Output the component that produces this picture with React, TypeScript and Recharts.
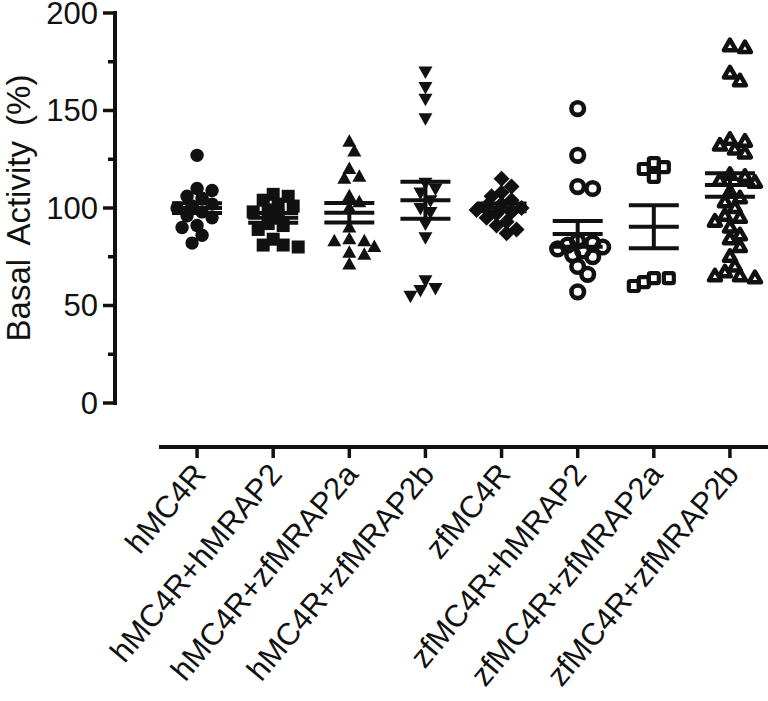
import React from "react";
import {
  ScatterChart,
  Scatter,
  XAxis,
  YAxis,
  ErrorBar,
  ReferenceLine,
} from "recharts";

const CATEGORIES = [
  "hMC4R",
  "hMC4R+hMRAP2",
  "hMC4R+zfMRAP2a",
  "hMC4R+zfMRAP2b",
  "zfMC4R",
  "zfMC4R+hMRAP2",
  "zfMC4R+zfMRAP2a",
  "zfMC4R+zfMRAP2b",
];

// basal activity (%) per replicate
const hMC4R = [127, 110, 109, 106, 105, 102, 101, 100, 98, 96, 95, 91, 90, 86, 82];
const hMC4R_hMRAP2 = [107, 106, 104, 102, 101, 99, 98, 96, 92, 91, 89, 84, 81, 80, 81];
const hMC4R_zfMRAP2a = [134, 129, 120, 116, 115, 106, 103, 100, 90, 83, 84, 83, 80, 77, 76, 71];
const hMC4R_zfMRAP2b = [170, 162, 156, 146, 113, 110, 108, 104, 100, 98, 92, 85, 63, 59, 58, 55];
const zfMC4R = [115, 111, 108, 106, 104, 102, 101, 100, 99, 98, 97, 95, 93, 91, 89, 87];
const zfMC4R_hMRAP2 = [151, 127, 111, 110, 83, 82, 81, 80, 79, 78, 76, 75, 70, 66, 57];
const zfMC4R_zfMRAP2a = [123, 121, 120, 116, 64, 62, 64, 60];
const zfMC4R_zfMRAP2b = [
  183, 182, 169, 165, 135, 134, 132, 130, 128, 117, 116, 114, 113, 108, 105, 103,
  100, 96, 95, 93, 90, 86, 84, 80, 75, 70, 67, 65, 65, 64,
];

const GROUPS = [
  hMC4R,
  hMC4R_hMRAP2,
  hMC4R_zfMRAP2a,
  hMC4R_zfMRAP2b,
  zfMC4R,
  zfMC4R_hMRAP2,
  zfMC4R_zfMRAP2a,
  zfMC4R_zfMRAP2b,
];

// mean +/- SEM as drawn
const MEANS = [100, 95, 97.6, 104, 100.3, 86.7, 90.4, 111.8];
const SEMS = [2.5, 2.5, 5, 9.5, 2, 6.6, 11, 6];

const Y_TICKS = [0, 25, 50, 75, 100, 125, 150, 175, 200];

// layout
const W = 768;
const H = 701;
const PLOT_LEFT = 115;
const PLOT_TOP = 13;
const X_AXIS_Y = 447;
const X_AXIS_START = 159;
const CAT_PX = (W - X_AXIS_START) / CATEGORIES.length;
const Y_PX = (403 - PLOT_TOP) / 200;
const X_MIN = -0.5 - (X_AXIS_START - PLOT_LEFT) / CAT_PX;
const X_MAX = CATEGORIES.length - 0.5;
const Y_MIN = -(X_AXIS_Y - 403) / Y_PX;
const INK = "#111";
const FONT = "'Liberation Sans', Arial, Helvetica, sans-serif";

// simple beeswarm so overlapping replicates spread sideways like Prism does
function swarm(values: number[]): number[] {
  const MIN_DIST = 10.5;
  const STEP = 5;
  const order = values.map((_, i) => i).sort((a, b) => values[b] - values[a]);
  const placed: { dx: number; py: number }[] = [];
  const out = new Array(values.length).fill(0);
  for (const i of order) {
    const py = values[i] * Y_PX;
    let dx = 0;
    for (let k = 0; k < 60; k++) {
      const cand = k === 0 ? 0 : (k % 2 ? 1 : -1) * Math.ceil(k / 2) * STEP;
      if (placed.every((p) => Math.hypot(p.dx - cand, p.py - py) >= MIN_DIST)) {
        dx = cand;
        break;
      }
    }
    placed.push({ dx, py });
    out[i] = dx / CAT_PX;
  }
  return out;
}

const seriesData = GROUPS.map((vals, gi) => {
  const off = swarm(vals);
  return vals.map((v, i) => ({ x: gi + off[i], y: v }));
});

const meanData = MEANS.map((m, i) => ({ x: i, y: m, sem: SEMS[i] }));

type P = { cx?: number; cy?: number };

const shapes: ((p: P) => React.ReactElement)[] = [
  ({ cx = 0, cy = 0 }) => <circle cx={cx} cy={cy} r={6.7} fill={INK} />,
  ({ cx = 0, cy = 0 }) => <rect x={cx - 6.5} y={cy - 6.5} width={13} height={13} fill={INK} />,
  ({ cx = 0, cy = 0 }) => (
    <path d={`M${cx},${cy - 7.5}L${cx + 7},${cy + 5}L${cx - 7},${cy + 5}Z`} fill={INK} />
  ),
  ({ cx = 0, cy = 0 }) => (
    <path d={`M${cx},${cy + 7.5}L${cx + 7},${cy - 5}L${cx - 7},${cy - 5}Z`} fill={INK} />
  ),
  ({ cx = 0, cy = 0 }) => (
    <path d={`M${cx},${cy - 8}L${cx + 8},${cy}L${cx},${cy + 8}L${cx - 8},${cy}Z`} fill={INK} />
  ),
  ({ cx = 0, cy = 0 }) => (
    <circle cx={cx} cy={cy} r={6.3} fill="none" stroke={INK} strokeWidth={4.6} />
  ),
  ({ cx = 0, cy = 0 }) => (
    <rect
      x={cx - 5}
      y={cy - 5}
      width={10}
      height={10}
      rx={1.5}
      fill="none"
      stroke={INK}
      strokeWidth={4.2}
      strokeLinejoin="round"
    />
  ),
  ({ cx = 0, cy = 0 }) => (
    <path
      d={`M${cx},${cy - 6.5}L${cx + 6},${cy + 4}L${cx - 6},${cy + 4}Z`}
      fill="none"
      stroke={INK}
      strokeWidth={4.5}
      strokeLinejoin="round"
    />
  ),
];

const MeanLine = ({ cx = 0, cy = 0 }: P) => (
  <line x1={cx - 25} x2={cx + 25} y1={cy} y2={cy} stroke={INK} strokeWidth={4} />
);

const YTick = ({ y, payload }: any) => {
  const v = payload.value as number;
  const major = v % 50 === 0;
  return (
    <g>
      <line
        x1={PLOT_LEFT - (major ? 12 : 7)}
        x2={PLOT_LEFT}
        y1={y}
        y2={y}
        stroke={INK}
        strokeWidth={3.5}
      />
      {major && (
        <text
          x={PLOT_LEFT - 17}
          y={y}
          dy="0.35em"
          textAnchor="end"
          fontSize={31}
          fontFamily={FONT}
          fill={INK}
        >
          {v}
        </text>
      )}
    </g>
  );
};

const XTick = ({ x, y, payload }: any) => {
  const ax = x + 2;
  const ay = y + 8;
  return (
    <text
      x={ax}
      y={ay}
      dy="0.35em"
      transform={`rotate(-50 ${ax} ${ay})`}
      textAnchor="end"
      fontSize={31}
      fontFamily={FONT}
      fill={INK}
    >
      {CATEGORIES[payload.value]}
    </text>
  );
};

export default function App() {
  return (
    <div style={{ position: "absolute", left: 0, top: 0, width: W, height: H, background: "#fff" }}>
      <ScatterChart
        width={W}
        height={H}
        margin={{ top: PLOT_TOP, right: 0, bottom: 0, left: 0 }}
      >
        <XAxis
          type="number"
          dataKey="x"
          domain={[X_MIN, X_MAX]}
          allowDataOverflow
          ticks={CATEGORIES.map((_, i) => i)}
          interval={0}
          axisLine={false}
          tickLine={{ stroke: INK, strokeWidth: 3.5 }}
          tickSize={11}
          height={H - X_AXIS_Y}
          tick={<XTick />}
        />
        <YAxis
          type="number"
          dataKey="y"
          domain={[Y_MIN, 200]}
          allowDataOverflow
          ticks={Y_TICKS}
          interval={0}
          axisLine={false}
          tickLine={false}
          width={PLOT_LEFT}
          tick={<YTick />}
        />
        <ReferenceLine
          segment={[
            { x: X_MIN, y: 0 },
            { x: X_MIN, y: 200 },
          ]}
          stroke={INK}
          strokeWidth={4}
          strokeLinecap="square"
        />
        <ReferenceLine
          segment={[
            { x: -0.5, y: Y_MIN },
            { x: X_MAX, y: Y_MIN },
          ]}
          stroke={INK}
          strokeWidth={4}
        />
        {seriesData.map((d, i) => (
          <Scatter
            key={CATEGORIES[i]}
            data={d}
            shape={shapes[i]}
            isAnimationActive={false}
          />
        ))}
        <Scatter data={meanData} shape={<MeanLine />} isAnimationActive={false}>
          <ErrorBar dataKey="sem" direction="y" width={25} strokeWidth={4} stroke={INK} />
        </Scatter>
        <text
          x={30}
          y={208}
          transform="rotate(-90 30 208)"
          textAnchor="middle"
          fontSize={33}
          fontFamily={FONT}
          fill={INK}
          style={{ wordSpacing: 6 }}
        >
          Basal Activity (%)
        </text>
      </ScatterChart>
    </div>
  );
}
